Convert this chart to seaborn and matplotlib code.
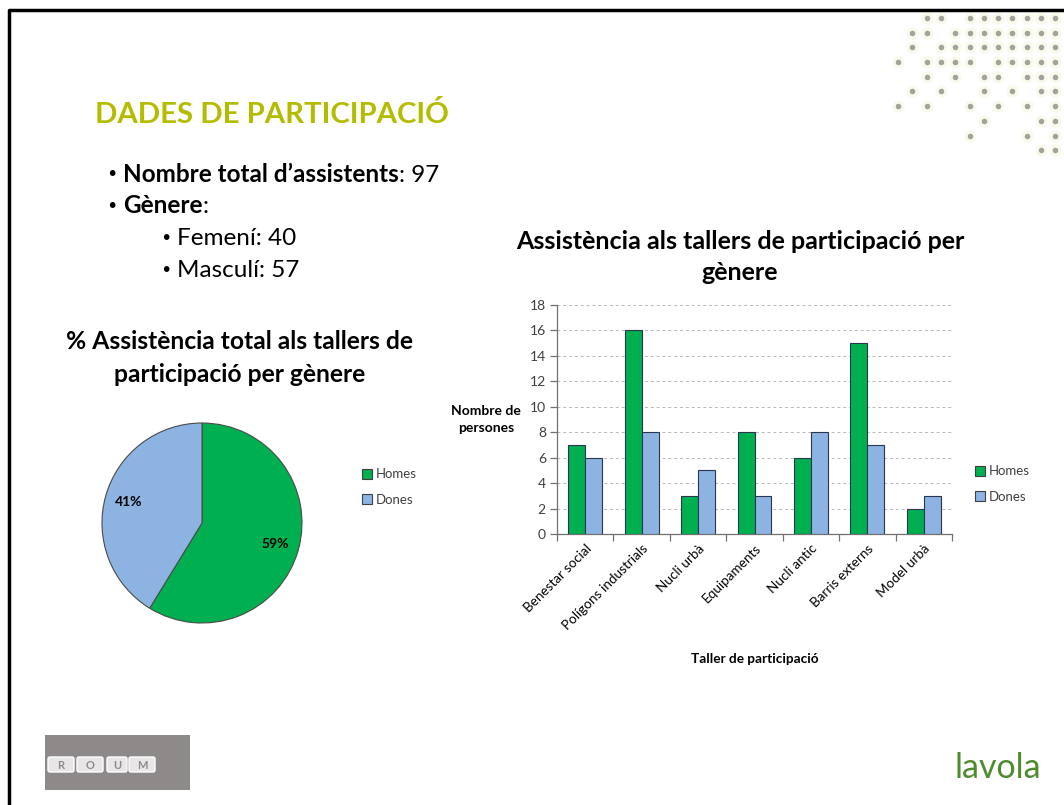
import numpy as np
import pandas as pd
import matplotlib
matplotlib.use('Agg')
import matplotlib.pyplot as plt
from matplotlib.patches import Patch, Rectangle, FancyBboxPatch
import seaborn as sns

# data
tallers = ['Benestar social', 'Polígons industrials', 'Nucli urbà', 'Equipaments',
           'Nucli antic', 'Barris externs', 'Model urbà']
homes = [7, 16, 3, 8, 6, 15, 2]
dones = [6, 8, 5, 3, 8, 7, 3]
generes = ['Homes', 'Dones']
total_genere = [57, 40]
y_ticks = list(range(0, 19, 2))

GREEN = '#00B050'
BLUE = '#8DB3E2'
TXT = '#404040'
FONT = ['Lato', 'DejaVu Sans']

# decorative dot pattern (top right corner of the slide)
dot_rows = [
    "..##.#######",
    ".##.########",
    ".#.#########",
    "#.####.#####",
    "..#.#.##.###",
    ".#.#..#.#.##",
    "#.#..#.#.#.#",
    "......#...##",
    ".....#...#.#",
    "..........##",
]

sns.set_theme(style='white')
plt.rcParams['font.family'] = FONT

fig = plt.figure(figsize=(10.64, 8.05), dpi=100)

# full-figure layer in pixel coordinates for the slide decoration
deco = fig.add_axes([0, 0, 1, 1], zorder=-5)
deco.set_xlim(0, 1064)
deco.set_ylim(805, 0)
deco.axis('off')

# slide frame
deco.plot([9, 9, 1064], [805, 10, 10], color='black', lw=2.5, solid_capstyle='projecting')

# dots
for r, row in enumerate(dot_rows):
    for c, ch in enumerate(row):
        if ch == '#':
            x, y = 898 + 14.3 * c, 18 + 14.7 * r
            deco.scatter(x, y, s=80, color='#eef3c8', alpha=0.35, lw=0)
            deco.scatter(x, y, s=16, color='#a3a39c', lw=0)

# title + bullets
deco.text(95, 123, 'DADES DE PARTICIPACIÓ', fontsize=21.2, fontweight='bold',
          color='#B4BC00', va='baseline', ha='left')


def bullet(xb, xt, y, main, rest=None, bold=False):
    deco.text(xb, y - 7, '•', fontsize=14, color='black', ha='left', va='center',
              family='DejaVu Sans')
    t = deco.text(xt, y, main, fontsize=17.5, fontweight='bold' if bold else 'normal',
                  color='black', va='baseline', ha='left')
    if rest:
        deco.annotate(rest, xy=(1, 0), xycoords=t, fontsize=17.5, color='black',
                      va='bottom', ha='left')


bullet(106, 123, 182, 'Nombre total d’assistents', ': 97', bold=True)
bullet(106, 123, 213, 'Gènere', ':', bold=True)
bullet(160, 177, 245, 'Femení: 40')
bullet(160, 177, 277, 'Masculí: 57')

# pie title
deco.text(240, 349, '% Assistència total als tallers de', fontsize=17.7, fontweight='bold',
          ha='center', va='baseline', color='black')
deco.text(240, 382, 'participació per gènere', fontsize=17.7, fontweight='bold',
          ha='center', va='baseline', color='black')

# bar title
deco.text(740, 249, 'Assistència als tallers de participació per', fontsize=18,
          fontweight='bold', ha='center', va='baseline', color='black')
deco.text(740, 280, 'gènere', fontsize=18, fontweight='bold', ha='center',
          va='baseline', color='black')

# bottom logos
deco.add_patch(Rectangle((45, 735), 145, 55, facecolor='#8f8a8a', edgecolor='none'))
for lt, x0, w in zip('ROUM', [48, 77, 107, 129], [26, 26, 20, 26]):
    deco.add_patch(FancyBboxPatch((x0, 757), w, 15, boxstyle='round,pad=0,rounding_size=2',
                                  facecolor='#e8e6e6', edgecolor='white', lw=1))
    deco.text(x0 + w / 2, 765, lt, fontsize=8, fontweight='bold', color='#8f8a8a',
              ha='center', va='center')
deco.text(1041, 778, 'lavola', fontsize=24.5, color='#4E8B2E',
          ha='right', va='baseline')

# ---------------- pie ----------------
axp = fig.add_axes([101 / 1064, 1 - 624 / 805, 202 / 1064, 202 / 805])
wedges, _, autotexts = axp.pie(total_genere, colors=[GREEN, BLUE], startangle=90,
                               counterclock=False, autopct='%1.0f%%', pctdistance=0.76,
                               wedgeprops=dict(edgecolor='#4a4a4a', linewidth=0.8),
                               textprops=dict(fontsize=10, fontweight='bold', color='black'))
axp.set_xlim(-1.01, 1.01)
axp.set_ylim(-1.01, 1.01)
axp.set_aspect('equal')

pie_handles = [Patch(facecolor=GREEN, edgecolor='#404040', lw=0.8),
               Patch(facecolor=BLUE, edgecolor='#404040', lw=0.8)]
fig.legend(pie_handles, generes, loc='center left', bbox_to_anchor=(350 / 1064, 1 - 487 / 805),
           frameon=False, fontsize=9.5, handlelength=0.75, handleheight=0.75,
           handletextpad=0.3, labelspacing=1.0, labelcolor=TXT)

# ---------------- bars ----------------
df = pd.DataFrame({
    'Taller': tallers * 2,
    'Gènere': ['Homes'] * len(tallers) + ['Dones'] * len(tallers),
    'Persones': homes + dones,
})

ax = fig.add_axes([557 / 1064, 1 - 534 / 805, 395 / 1064, 229 / 805])
sns.barplot(data=df, x='Taller', y='Persones', hue='Gènere', order=tallers,
            hue_order=generes, palette=[GREEN, BLUE], width=0.6, ax=ax, saturation=1,
            edgecolor='#2a3550', linewidth=0.8, legend=False, zorder=3)

ax.set_ylim(0, 18)
ax.set_xlim(-0.5, len(tallers) - 0.5)
ax.set_yticks(y_ticks)
ax.yaxis.grid(True, color='#b8b8b8', linestyle=(0, (3, 3)), linewidth=0.7, zorder=0)
ax.xaxis.grid(False)
ax.set_axisbelow(True)

for s in ['top', 'right']:
    ax.spines[s].set_visible(False)
for s in ['left', 'bottom']:
    ax.spines[s].set_color('#707070')
    ax.spines[s].set_linewidth(0.9)

ax.set_xticks(range(len(tallers)))
ax.set_xticklabels(tallers, rotation=45, ha='right', rotation_mode='anchor',
                   fontsize=9.7, color='black')
ax.set_xticks(np.arange(-0.5, len(tallers), 1), minor=True)
ax.tick_params(axis='x', which='major', length=0, pad=6)
ax.tick_params(axis='x', which='minor', length=5, color='#707070', width=0.9, bottom=True)
ax.tick_params(axis='y', length=5, color='#707070', width=0.9, left=True,
               labelsize=10, labelcolor=TXT, pad=3)

ax.set_ylabel('Nombre de\npersones', fontsize=10, fontweight='bold', rotation=0,
              ha='center', va='center', color='black', linespacing=1.5)
ax.yaxis.set_label_coords(-0.18, 0.5)
ax.set_xlabel('Taller de participació', fontsize=9.8, fontweight='bold', color='black')
ax.xaxis.set_label_coords(0.5, -0.52)

bar_handles = [Patch(facecolor=GREEN, edgecolor='#404040', lw=0.8),
               Patch(facecolor=BLUE, edgecolor='#404040', lw=0.8)]
fig.legend(bar_handles, generes, loc='center left', bbox_to_anchor=(963 / 1064, 1 - 484 / 805),
           frameon=False, fontsize=9.5, handlelength=0.75, handleheight=0.75,
           handletextpad=0.3, labelspacing=1.0, labelcolor=TXT)

fig.savefig('out.png', dpi=100)
